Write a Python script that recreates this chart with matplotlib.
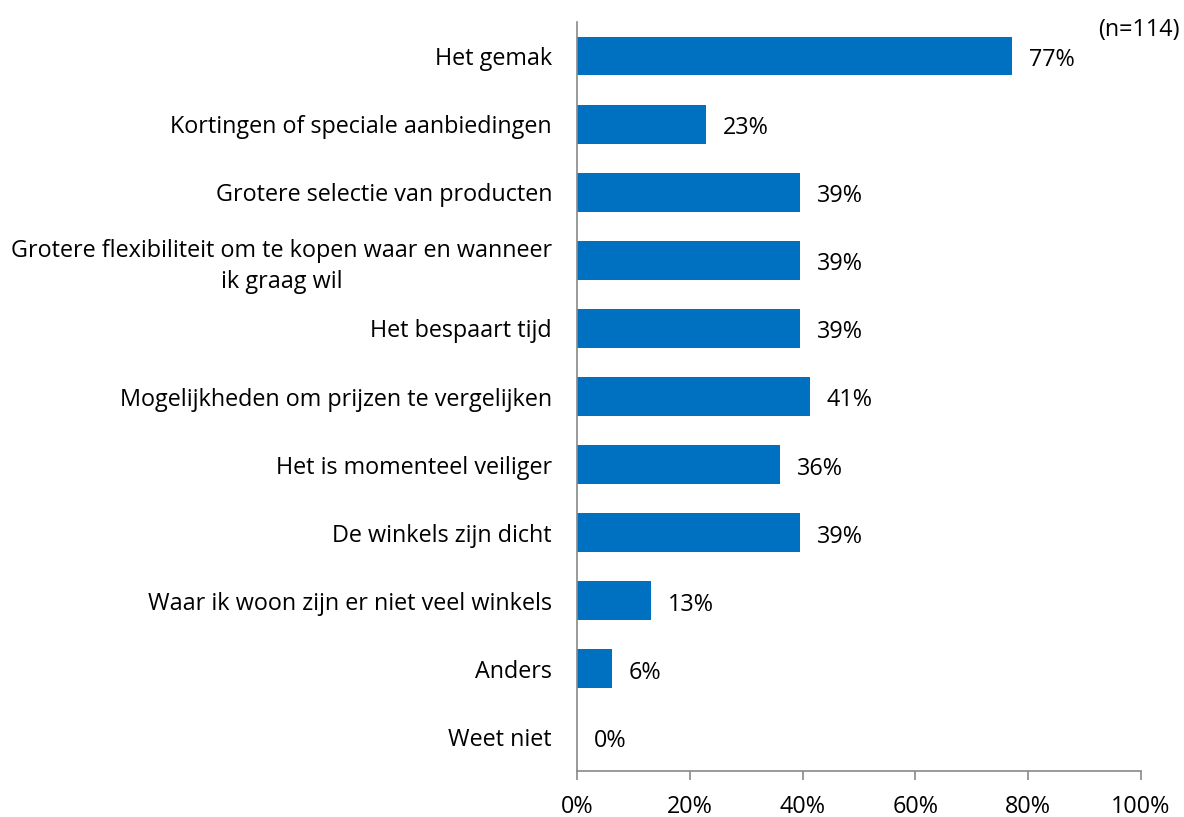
import matplotlib
matplotlib.use("Agg")
import matplotlib.pyplot as plt

categories = [
    "Het gemak",
    "Kortingen of speciale aanbiedingen",
    "Grotere selectie van producten",
    "Grotere flexibiliteit om te kopen waar en wanneer\nik graag wil",
    "Het bespaart tijd",
    "Mogelijkheden om prijzen te vergelijken",
    "Het is momenteel veiliger",
    "De winkels zijn dicht",
    "Waar ik woon zijn er niet veel winkels",
    "Anders",
    "Weet niet",
]
values = [77.19, 22.81, 39.47, 39.47, 39.47, 41.23, 35.96, 39.47, 13.16, 6.14, 0.0]
xticks = [0, 20, 40, 60, 80, 100]
xtick_labels = ["0%", "20%", "40%", "60%", "80%", "100%"]
note = "(n=114)"

plt.rcParams['font.family'] = ['Open Sans', 'DejaVu Sans']
FS = 16.8

fig = plt.figure(figsize=(11.84, 8.17), dpi=100)
ax = fig.add_axes([577/1184, 46/817, (1141-577)/1184, (771-22)/817])

ypos = list(range(len(categories)))
ax.barh(ypos, values, height=0.57, color="#0070C0")
ax.set_ylim(len(categories) - 0.5, -0.5)
ax.set_xlim(0, 100)
ax.set_yticks(ypos)
ax.set_yticklabels(categories, fontsize=FS, multialignment='center', linespacing=1.35)
ax.tick_params(axis='y', length=0, pad=18)
ax.set_xticks(xticks)
ax.set_xticklabels(xtick_labels, fontsize=FS)
ax.tick_params(axis='x', length=6.5, width=1.2, color="#898989", pad=11)

for s in ['top', 'right']:
    ax.spines[s].set_visible(False)
for s in ['left', 'bottom']:
    ax.spines[s].set_color("#898989")
    ax.spines[s].set_linewidth(1.2)

for y, v in zip(ypos, values):
    ax.annotate(f"{v:.0f}%", xy=(v, y), xytext=(17, -4), textcoords='offset pixels',
                va='center', ha='left', fontsize=FS)

fig.text(1180/1184, 1 - 30/817, note, ha='right', va='center', fontsize=FS)

fig.savefig("out.png", dpi=100)
